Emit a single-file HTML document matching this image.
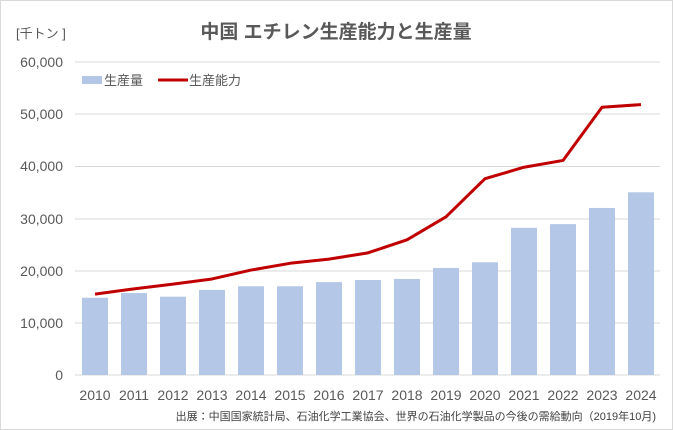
<!DOCTYPE html>
<html><head><meta charset="utf-8"><style>
body{margin:0;background:#fff}
svg{display:block}
text{font-family:"Liberation Sans","Noto Sans CJK JP",sans-serif}
</style></head><body>
<svg width="673" height="430" xmlns="http://www.w3.org/2000/svg">
<rect x="0.5" y="0.5" width="672" height="429" fill="#fff" stroke="#d9d9d9"/>
<text x="336" y="38" text-anchor="middle" font-size="19" font-weight="bold" fill="#595959">中国 エチレン生産能力と生産量</text>
<text x="16" y="38" font-size="13" fill="#595959">[千トン ]</text>
<g stroke="#d9d9d9" stroke-width="1">
<line x1="75" x2="660" y1="62" y2="62"/><line x1="75" x2="660" y1="114" y2="114"/>
<line x1="75" x2="660" y1="166.5" y2="166.5"/><line x1="75" x2="660" y1="219" y2="219"/>
<line x1="75" x2="660" y1="271" y2="271"/><line x1="75" x2="660" y1="323" y2="323"/>
<line x1="75" x2="660" y1="375" y2="375"/>
</g>
<g font-size="14" fill="#595959" text-anchor="end">
<text x="63" y="67">60,000</text><text x="63" y="119">50,000</text><text x="63" y="171">40,000</text>
<text x="63" y="224">30,000</text><text x="63" y="276">20,000</text><text x="63" y="328">10,000</text><text x="63" y="380">0</text>
</g>
<g fill="#b4c7e7" id="bars"></g>
<polyline id="ln" fill="none" stroke="#c00000" stroke-width="3" stroke-linejoin="round"/>
<g id="xl" font-size="14" fill="#595959" text-anchor="middle"></g>
<rect x="82" y="76" width="20" height="8" fill="#b4c7e7"/>
<text x="104" y="85" font-size="13" fill="#595959">生産量</text>
<line x1="158" x2="188" y1="80" y2="80" stroke="#c00000" stroke-width="3"/>
<text x="189" y="85" font-size="13" fill="#595959">生産能力</text>
<text x="656" y="420" text-anchor="end" font-size="11" fill="#404040">出展：中国国家統計局、石油化学工業協会、世界の石油化学製品の今後の需給動向（2019年10月)</text>
<script>
var b=[14.8,15.7,15,16.3,17,17,17.8,18.2,18.4,20.5,21.6,28.2,28.9,32,35];
var l=[15.5,16.5,17.4,18.4,20.1,21.4,22.2,23.4,25.9,30.3,37.6,39.8,41.1,51.3,51.8];
var s=5.22,ns="http://www.w3.org/2000/svg",g=document.getElementById('bars'),xl=document.getElementById('xl'),pts=[];
for(var i=0;i<15;i++){var c=95+i*39;
var r=document.createElementNS(ns,'rect');r.setAttribute('x',c-13);r.setAttribute('width',26);r.setAttribute('y',375-b[i]*s);r.setAttribute('height',b[i]*s);g.appendChild(r);
pts.push(c+','+(375-l[i]*s));
var t=document.createElementNS(ns,'text');t.setAttribute('x',c);t.setAttribute('y',400);t.textContent=2010+i;xl.appendChild(t);}
document.getElementById('ln').setAttribute('points',pts.join(' '));
</script>
</svg>
</body></html>
